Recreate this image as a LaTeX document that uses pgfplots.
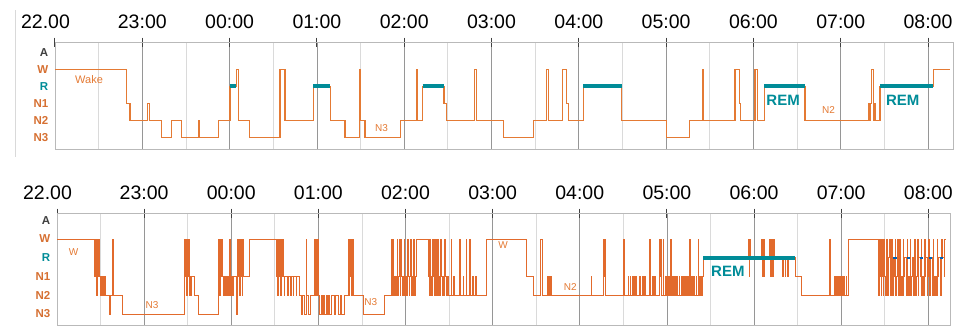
\documentclass[border=0pt]{standalone}
\usepackage{pgfplots}
\pgfplotsset{compat=1.18}
\usepackage{fontspec}
\setmainfont{Liberation Sans}
\definecolor{orng}{RGB}{228,122,52}
\definecolor{orngd}{RGB}{226,106,44}
\definecolor{orlab}{RGB}{214,112,50}
\definecolor{tealc}{RGB}{0,140,152}
\definecolor{gmaj}{RGB}{150,150,150}
\definecolor{gmin}{RGB}{218,218,218}
\pgfplotsset{hyp/.style={
  scale only axis, clip=true,
  xtick={22,...,32},
  xticklabels={\hspace*{-19bp}22.00,23:00,00:00,01:00,02:00,03:00,04:00,05:00,06:00,07:00,08:00},
  xtick pos=upper, xticklabel pos=upper,
  minor x tick num=1,
  xmajorgrids, xminorgrids,
  major grid style={gmaj, line width=0.8bp},
  minor grid style={gmin, line width=0.8bp},
  tick align=center,
  major tick length=9bp, minor tick length=0pt,
  x tick style={black!75, line width=1bp},
  ytick={0,...,5},
  yticklabels={\textcolor{orlab}{N3},\textcolor{orlab}{N2},\textcolor{orlab}{N1},\textcolor{tealc}{R},\textcolor{orlab}{W},\textcolor{black!75}{A}},
  y tick style={draw=none},
  yticklabel style={anchor=east, inner sep=2bp, font=\fontsize{11.5bp}{12bp}\selectfont\bfseries},
  xticklabel style={anchor=base, inner sep=0pt, font=\fontsize{19.5bp}{20bp}\selectfont},
  xticklabel shift=9bp,
  axis line style={gray!55, line width=0.8bp},
}}
\begin{document}
\begin{tikzpicture}
\useasboundingbox (0,0) rectangle (962bp,-328bp);
\draw[gray!30, line width=0.8bp] (15bp,-10bp) -- (15bp,-157bp);
% ---------------- top panel ----------------
\begin{axis}[hyp, at={(55bp,-42bp)}, anchor=north west,
  width=898bp, height=107bp, xmin=22, xmax=32.286, ymin=-0.7, ymax=5.6]
\addplot[const plot, orng, line width=1.1bp] coordinates {
(22.000,4)(22.820,2)(22.859,1)(23.060,2)(23.078,1)(23.222,0)(23.336,1)(23.451,0)
(23.644,1)(23.654,0)(23.871,1)(24.005,3)(24.075,4)(24.100,1)(24.226,0)(24.577,4)
(24.634,1)(24.959,3)(25.155,1)(25.322,0)(25.486,4)(25.495,1)(25.551,0)(25.960,1)
(26.143,4)(26.155,1)(26.212,3)(26.456,2)(26.487,1)(26.800,4)(26.830,1)(27.136,0)
(27.479,1)(27.632,4)(27.650,1)(27.815,4)(27.860,2)(27.880,1)(28.052,3)(28.491,1)
(29.000,0)(29.266,1)(29.420,4)(29.432,1)(29.789,4)(29.839,2)(29.850,1)(30.018,4)
(30.045,1)(30.122,3)(30.591,1)(31.317,2)(31.330,1)(31.340,2)(31.355,4)(31.372,1)
(31.385,2)(31.395,1)(31.450,3)(32.061,4)(32.252,4)};
\addplot[tealc, line width=4.5bp] coordinates {(24.005,3)(24.075,3)};
\addplot[tealc, line width=4.5bp] coordinates {(24.959,3)(25.155,3)};
\addplot[tealc, line width=4.5bp] coordinates {(26.212,3)(26.456,3)};
\addplot[tealc, line width=4.5bp] coordinates {(28.052,3)(28.491,3)};
\addplot[tealc, line width=4.5bp] coordinates {(30.122,3)(30.591,3)};
\addplot[tealc, line width=4.5bp] coordinates {(31.450,3)(32.061,3)};
\node[orng, font=\fontsize{11bp}{12bp}\selectfont] at (axis cs:22.39,3.36) {Wake};
\node[orng, font=\fontsize{10bp}{11bp}\selectfont] at (axis cs:25.74,0.54) {N3};
\node[orng, font=\fontsize{10bp}{11bp}\selectfont] at (axis cs:30.86,1.60) {N2};
\node[tealc, font=\fontsize{15bp}{16bp}\selectfont\bfseries] at (axis cs:30.34,2.19) {REM};
\node[tealc, font=\fontsize{15bp}{16bp}\selectfont\bfseries] at (axis cs:31.71,2.19) {REM};
\end{axis}
% ---------------- bottom panel ----------------
\begin{axis}[hyp, at={(57bp,-213bp)}, anchor=north west,
  width=893bp, height=112bp, xmin=22, xmax=32.249, ymin=-0.59, ymax=5.39]
\addplot[const plot, orngd, line width=0.9bp] coordinates {
(22.000,4)
(22.433,2)(22.440,4)(22.452,1)(22.462,4)(22.472,2)(22.482,4)(22.490,2)(22.498,1)(22.506,2)(22.514,1)(22.522,2)(22.530,1)(22.540,2)(22.552,1)(22.567,1)
(22.603,0)(22.610,1)(22.638,4)(22.646,1)(22.751,0)
(23.466,4)(23.474,2)(23.480,4)(23.488,1)(23.496,4)(23.504,2)(23.512,4)(23.520,1)(23.530,2)(23.536,1)(23.543,2)(23.575,1)(23.619,0)
(23.849,4)(23.856,2)(23.862,4)(23.870,1)(23.878,4)(23.886,2)(23.893,4)(23.899,2)(23.907,1)(23.915,2)(23.923,1)(23.931,2)(23.939,1)(23.947,2)(23.955,1)(23.963,2)(23.971,1)(23.979,4)(23.986,2)(23.994,1)(24.002,2)(24.010,1)(24.021,2)(24.060,0)(24.066,2)(24.070,4)(24.078,2)(24.086,4)(24.094,1)(24.102,4)(24.110,2)(24.118,4)(24.126,1)(24.134,4)(24.142,2)(24.155,2)(24.212,4)
(24.519,2)(24.527,4)(24.535,1)(24.543,4)(24.551,2)(24.559,4)(24.567,1)(24.575,4)(24.583,2)(24.591,4)(24.599,2)(24.607,1)(24.615,2)(24.633,2)
(24.650,1)(24.656,2)(24.680,1)(24.686,2)(24.710,1)(24.716,2)(24.745,1)(24.751,2)(24.787,1)
(24.800,0)(24.818,1)(24.840,0)(24.858,1)(24.862,4)(24.868,1)(24.890,0)(24.905,1)(24.960,4)(24.966,1)(24.972,4)(24.980,1)(24.988,4)(24.996,1)(25.010,0)(25.030,1)(25.045,0)(25.062,1)(25.075,0)(25.090,1)(25.100,0)(25.118,1)(25.131,0)(25.150,1)
(25.180,0)(25.200,1)(25.230,0)(25.250,1)(25.270,0)(25.300,1)(25.340,4)(25.348,1)(25.356,4)(25.364,2)(25.372,4)(25.382,1)(25.390,4)(25.400,1)(25.520,0)
(25.762,1)(25.839,4)(25.848,1)(25.856,4)(25.864,2)(25.872,1)(25.880,2)(25.888,1)(25.896,2)(25.904,4)(25.912,1)(25.920,2)(25.928,4)(25.936,1)(25.944,4)(25.952,2)(25.960,1)(25.968,2)(25.976,1)(25.984,4)(25.992,2)(26.000,1)(26.008,2)(26.016,1)(26.024,4)(26.032,2)(26.040,1)(26.048,2)(26.056,4)(26.064,1)(26.072,2)(26.080,1)(26.090,4)(26.098,2)(26.106,1)(26.114,2)(26.126,4)
(26.259,2)(26.267,4)(26.275,1)(26.283,4)(26.291,2)(26.299,1)(26.307,4)(26.315,2)(26.323,4)(26.331,1)(26.339,2)(26.347,4)(26.355,1)(26.363,2)(26.371,4)(26.379,1)(26.387,2)(26.395,1)(26.403,4)(26.411,2)(26.419,1)(26.430,2)(26.440,1)(26.450,4)(26.458,2)(26.466,1)(26.480,2)
(26.489,1)(26.524,4)(26.532,1)(26.550,2)(26.558,1)(26.619,4)(26.627,1)(26.660,2)(26.667,1)(26.696,4)(26.704,1)(26.734,4)(26.742,1)(26.770,2)(26.777,1)(26.805,2)(26.812,1)
(26.930,4)(27.385,2)(27.470,1)
(27.553,4)(27.566,1)(27.634,2)(27.642,1)(27.650,2)(27.658,1)(27.668,2)(27.676,1)(28.130,2)(28.138,1)(28.269,4)(28.280,2)(28.290,4)(28.298,1)(28.498,4)(28.515,1)(28.553,2)(28.560,1)(28.580,2)(28.587,1)(28.600,2)(28.607,1)(28.620,2)(28.627,1)(28.640,2)(28.647,1)(28.690,2)(28.697,1)(28.720,2)(28.727,1)(28.740,2)(28.749,1)(28.804,4)(28.812,1)(28.830,2)(28.840,1)(28.860,2)(28.868,1)(28.918,4)(28.926,2)(28.934,4)(28.942,1)(28.955,4)(28.963,1)(28.980,2)(28.987,1)
(29.000,2)(29.008,1)(29.020,2)(29.028,1)(29.045,4)(29.053,1)(29.065,2)(29.073,1)(29.090,2)(29.098,1)(29.110,2)(29.118,1)(29.140,2)(29.148,1)(29.165,2)(29.173,1)(29.190,2)(29.198,1)(29.215,2)(29.223,1)(29.240,2)(29.250,1)(29.260,4)(29.270,1)(29.285,2)(29.293,1)(29.310,2)(29.318,1)(29.335,2)(29.343,1)(29.358,4)(29.366,2)(29.375,1)(29.390,2)(29.398,1)(29.410,2)
(29.417,3)(29.930,4)(29.942,2)(29.950,4)(29.962,3)(30.085,4)(30.095,2)(30.105,4)(30.115,2)(30.125,3)(30.175,4)(30.185,2)(30.195,4)(30.210,2)(30.225,4)(30.235,3)(30.330,2)(30.340,3)(30.355,2)(30.365,3)(30.385,2)(30.392,3)(30.470,2)(30.546,1)
(30.868,4)(30.878,1)(30.925,2)(30.933,1)(30.945,2)(30.953,1)(30.965,2)(30.973,1)(30.985,2)(30.993,1)(31.005,2)(31.013,1)(31.030,2)(31.040,1)(31.055,2)(31.065,1)(31.082,4)
(31.426,1)(31.434,4)(31.442,2)(31.450,4)(31.458,1)(31.466,4)(31.474,2)(31.482,1)(31.490,4)(31.498,2)(31.506,1)(31.514,2)(31.522,4)(31.530,1)(31.540,2)(31.548,3)(31.556,4)(31.564,1)(31.572,2)(31.580,4)(31.588,1)(31.596,3)(31.612,2)(31.620,4)(31.628,1)(31.640,2)(31.648,4)(31.656,1)(31.666,2)(31.674,4)(31.682,1)(31.692,2)(31.700,1)(31.710,4)(31.718,2)(31.726,3)(31.745,1)(31.755,4)(31.763,2)(31.771,1)(31.781,2)(31.790,4)(31.798,1)(31.808,2)(31.816,3)(31.830,1)(31.840,4)(31.848,2)(31.856,1)(31.866,2)(31.874,4)(31.882,1)(31.892,3)(31.910,2)(31.918,4)(31.926,1)(31.936,2)(31.944,1)(31.954,4)(31.962,2)(31.970,3)(31.985,1)(31.995,2)(32.003,4)(32.011,1)(32.021,2)(32.029,3)(32.045,1)(32.055,4)(32.063,2)(32.071,1)(32.081,2)(32.090,1)(32.100,4)(32.108,2)(32.116,3)(32.135,1)(32.145,2)(32.153,4)(32.161,3)(32.180,2)(32.190,4)(32.200,4)};
\addplot[tealc, line width=3.5bp] coordinates {(29.417,3)(30.470,3)};
\addplot[tealc!70!blue, line width=2.5bp] coordinates {(31.596,3)(31.640,3)};
\addplot[tealc!70!blue, line width=2.5bp] coordinates {(31.755,3)(31.790,3)};
\addplot[tealc!70!blue, line width=2.5bp] coordinates {(31.902,3)(31.940,3)};
\addplot[tealc!70!blue, line width=2.5bp] coordinates {(32.003,3)(32.040,3)};
\addplot[tealc!70!blue, line width=2.5bp] coordinates {(32.130,3)(32.165,3)};
\node[orng, font=\fontsize{10bp}{11bp}\selectfont] at (axis cs:22.19,3.31) {W};
\node[orng, font=\fontsize{10bp}{11bp}\selectfont] at (axis cs:23.09,0.48) {N3};
\node[orng, font=\fontsize{10bp}{11bp}\selectfont] at (axis cs:25.60,0.62) {N3};
\node[orng, font=\fontsize{10bp}{11bp}\selectfont] at (axis cs:27.12,3.68) {W};
\node[orng, font=\fontsize{10bp}{11bp}\selectfont] at (axis cs:27.89,1.46) {N2};
\node[tealc, font=\fontsize{15bp}{16bp}\selectfont\bfseries] at (axis cs:29.70,2.26) {REM};
\end{axis}
\end{tikzpicture}
\end{document}
